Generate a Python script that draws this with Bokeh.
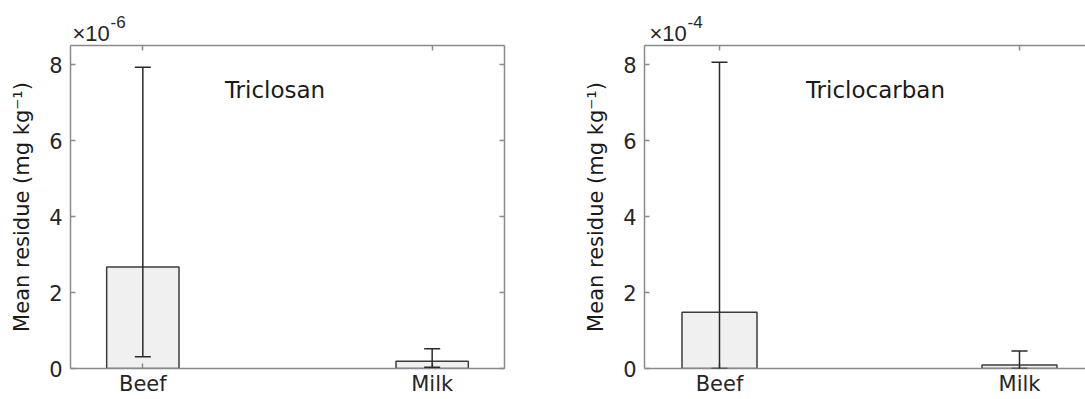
from bokeh.plotting import figure
from bokeh.models import (ColumnDataSource, Whisker, TeeHead, FixedTicker,
                          LinearAxis, Label, Range1d, Title)
from bokeh.layouts import row
from bokeh.embed import file_html
from bokeh.resources import INLINE

# ---------------- data ----------------
categories = ["Beef", "Milk"]
# Triclosan, values in units of 1e-6 mg/kg
triclosan_mean = [2.67, 0.19]
triclosan_upper = [7.93, 0.52]
triclosan_lower = [0.31, 0.03]
# Triclocarban, values in units of 1e-4 mg/kg
triclocarban_mean = [1.48, 0.09]
triclocarban_upper = [8.06, 0.46]
triclocarban_lower = [0.0, 0.0]
y_ticks = [0, 2, 4, 6, 8]
exponents = ["-6", "-4"]
compounds = ["Triclosan", "Triclocarban"]
y_label = "Mean residue (mg kg\u207b\u00b9)"

FONT = "DejaVu Sans"
EXP_FONT = "Liberation Sans"
AX = "#8a8a8a"
TXT = "#262626"


def style_axis(ax, labels=True, size="21px"):
    ax.axis_line_color = AX
    ax.axis_line_width = 1.5
    ax.major_tick_line_color = AX
    ax.major_tick_line_width = 1.5
    ax.major_tick_in = 5
    ax.major_tick_out = 0
    ax.minor_tick_line_color = None
    if labels:
        ax.major_label_text_font = FONT
        ax.major_label_text_font_size = size
        ax.major_label_text_color = TXT
    else:
        ax.major_label_text_color = None
        ax.major_label_standoff = 0


def make_panel(width, border_left, border_right, x_end, mean, upper, lower,
               exp, exp_offset, title, title_x, right_axis):
    p = figure(width=width, height=399,
               x_range=Range1d(0.75, x_end), y_range=Range1d(0, 8.5),
               output_backend="svg", toolbar_location=None,
               min_border_left=border_left, min_border_right=border_right,
               min_border_top=45, min_border_bottom=31)
    p.outline_line_color = None
    p.xgrid.visible = False
    p.ygrid.visible = False
    p.background_fill_color = "white"
    p.border_fill_color = "white"

    xs = [i + 1 for i in range(len(categories))]
    src = ColumnDataSource(dict(x=xs, top=mean, upper=upper, lower=lower))
    p.vbar(x="x", top="top", width=0.25, source=src,
           fill_color="#f0f0f0", line_color="#3c3c3c", line_width=1.5)
    p.add_layout(Whisker(base="x", upper="upper", lower="lower", source=src,
                         level="overlay",
                         line_color="#2a2a2a", line_width=1.5,
                         upper_head=TeeHead(size=16, line_color="#2a2a2a", line_width=1.5),
                         lower_head=TeeHead(size=16, line_color="#2a2a2a", line_width=1.5)))

    # bottom axis (categories)
    xa = p.xaxis[0]
    xa.ticker = FixedTicker(ticks=xs)
    xa.major_label_overrides = {x: c for x, c in zip(xs, categories)}
    style_axis(xa, True, "21px")
    xa.major_label_standoff = 3

    # left axis
    ya = p.yaxis[0]
    ya.ticker = FixedTicker(ticks=y_ticks)
    style_axis(ya, True, "21px")
    ya.major_label_standoff = 8
    ya.axis_label = y_label
    ya.axis_label_text_font = FONT
    ya.axis_label_text_font_size = "21px"
    ya.axis_label_text_font_style = "normal"
    ya.axis_label_text_color = "#1a1a1a"
    ya.axis_label_standoff = 12

    # top axis
    ta = LinearAxis(ticker=FixedTicker(ticks=xs))
    style_axis(ta, False)
    p.add_layout(ta, "above")
    if right_axis:
        ra = LinearAxis(ticker=FixedTicker(ticks=y_ticks))
        style_axis(ra, False)
        p.add_layout(ra, "right")

    # exponent (x10^n) shown above the axes, as in MATLAB
    base = Title(text="\u00d710", align="left", offset=exp_offset, standoff=0,
                 text_font=EXP_FONT, text_font_size="22px",
                 text_font_style="normal", text_color=TXT)
    p.add_layout(base, "above")
    p.title.text = exp
    p.title.align = "left"
    p.title.offset = exp_offset + 38
    p.title.standoff = -18
    p.title.text_font = EXP_FONT
    p.title.text_font_size = "17px"
    p.title.text_font_style = "normal"
    p.title.text_color = TXT

    # compound name
    p.add_layout(Label(x=title_x, y=7.34, text=title,
                       text_baseline="middle", text_align="center",
                       text_font=FONT, text_font_size="23px", text_color="#1a1a1a"))
    return p


p1 = make_panel(540, 70, 36, 2.25, triclosan_mean, triclosan_upper,
                triclosan_lower, exponents[0], 2, compounds[0], 1.457, True)
p2 = make_panel(545, 104, 0, 2.22, triclocarban_mean, triclocarban_upper,
                triclocarban_lower, exponents[1], 5, compounds[1], 1.52, False)

layout = row(p1, p2)
open("out.html", "w").write(file_html(layout, INLINE))
